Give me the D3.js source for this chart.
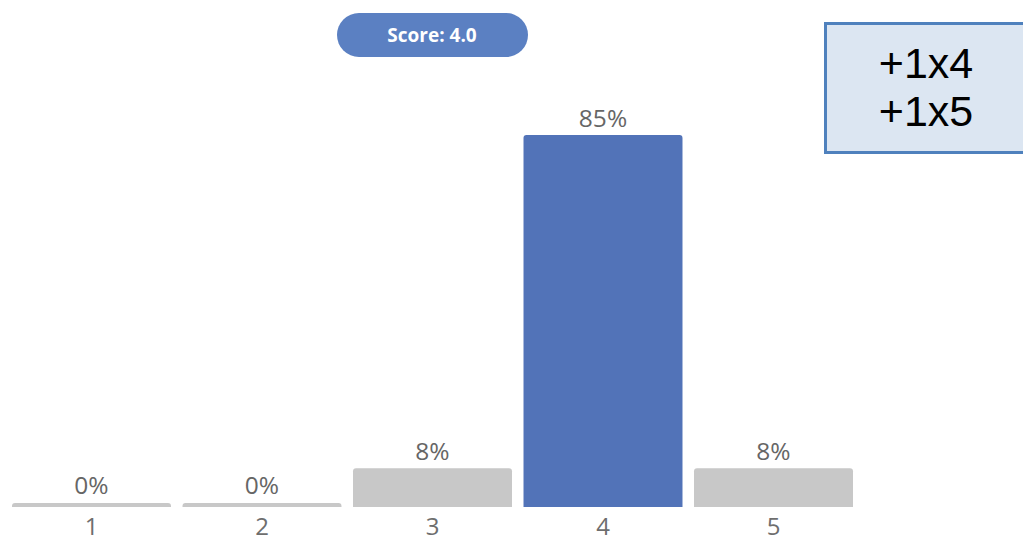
<!DOCTYPE html>
<html><head><meta charset="utf-8">
<script src="https://cdn.jsdelivr.net/npm/d3@7"></script>
<style>body{margin:0;background:#fff}svg{display:block}</style>
</head><body>
<script>
const categories = ["1","2","3","4","5"];
const values = [0, 0, 8, 85, 8];
const labels = ["0%","0%","8%","85%","8%"];
const highlight = "4";
const scoreText = "Score: 4.0";
const noteLines = ["+1x4","+1x5"];

const W = 1023, H = 541;
const svg = d3.select("body").append("svg").attr("width", W).attr("height", H);

const baseline = 507, minH = 4;
const x = d3.scaleBand().domain(categories).range([6.25, 858.75]).paddingInner(0.0675).paddingOuter(0.03375);
const y = d3.scaleLinear().domain([0, 85]).range([baseline - minH, 135]);

const r = 3;
function barPath(x0, y0, w, yb) {
  return `M${x0},${yb}V${y0 + r}Q${x0},${y0} ${x0 + r},${y0}H${x0 + w - r}Q${x0 + w},${y0} ${x0 + w},${y0 + r}V${yb}Z`;
}

svg.selectAll("path.bar").data(categories).join("path")
  .attr("class", "bar")
  .attr("d", (c, i) => barPath(x(c), y(values[i]), x.bandwidth(), baseline))
  .attr("fill", c => c === highlight ? "#5273b8" : "#c8c8c8");

svg.selectAll("text.val").data(categories).join("text")
  .attr("class", "val")
  .attr("x", c => x(c) + x.bandwidth() / 2)
  .attr("y", (c, i) => y(values[i]) - (values[i] === 0 ? 9 : 8))
  .attr("text-anchor", "middle")
  .attr("font-family", "Open Sans")
  .attr("font-size", 24.5)
  .attr("fill", "#666")
  .text((c, i) => labels[i]);

const axis = d3.axisBottom(x).tickSize(0).tickPadding(0);
const g = svg.append("g").attr("transform", `translate(0,${baseline})`).call(axis);
g.select(".domain").remove();
g.selectAll("text").attr("font-family", "Open Sans").attr("font-size", 24)
  .attr("fill", "#6e6e6e").attr("dy", null).attr("y", 28);

// score pill
svg.append("rect").attr("x", 337).attr("y", 13).attr("width", 191).attr("height", 44).attr("rx", 22)
  .attr("fill", "#5b80c2");
svg.append("text").attr("x", 432).attr("y", 42).attr("text-anchor", "middle")
  .attr("font-family", "Open Sans").attr("font-weight", "bold").attr("font-size", 19).attr("fill", "#fff")
  .text(scoreText);

// note box
svg.append("rect").attr("x", 825.5).attr("y", 23.5).attr("width", 205).attr("height", 129)
  .attr("fill", "#dce6f2").attr("stroke", "#4f81bd").attr("stroke-width", 3);
svg.selectAll("text.note").data(noteLines).join("text").attr("class", "note")
  .attr("x", 926).attr("y", (d, i) => 78 + i * 48)
  .attr("text-anchor", "middle")
  .attr("font-family", "Liberation Sans, Arial").attr("font-size", 43).attr("fill", "#000")
  .text(d => d);
</script>
</body></html>
